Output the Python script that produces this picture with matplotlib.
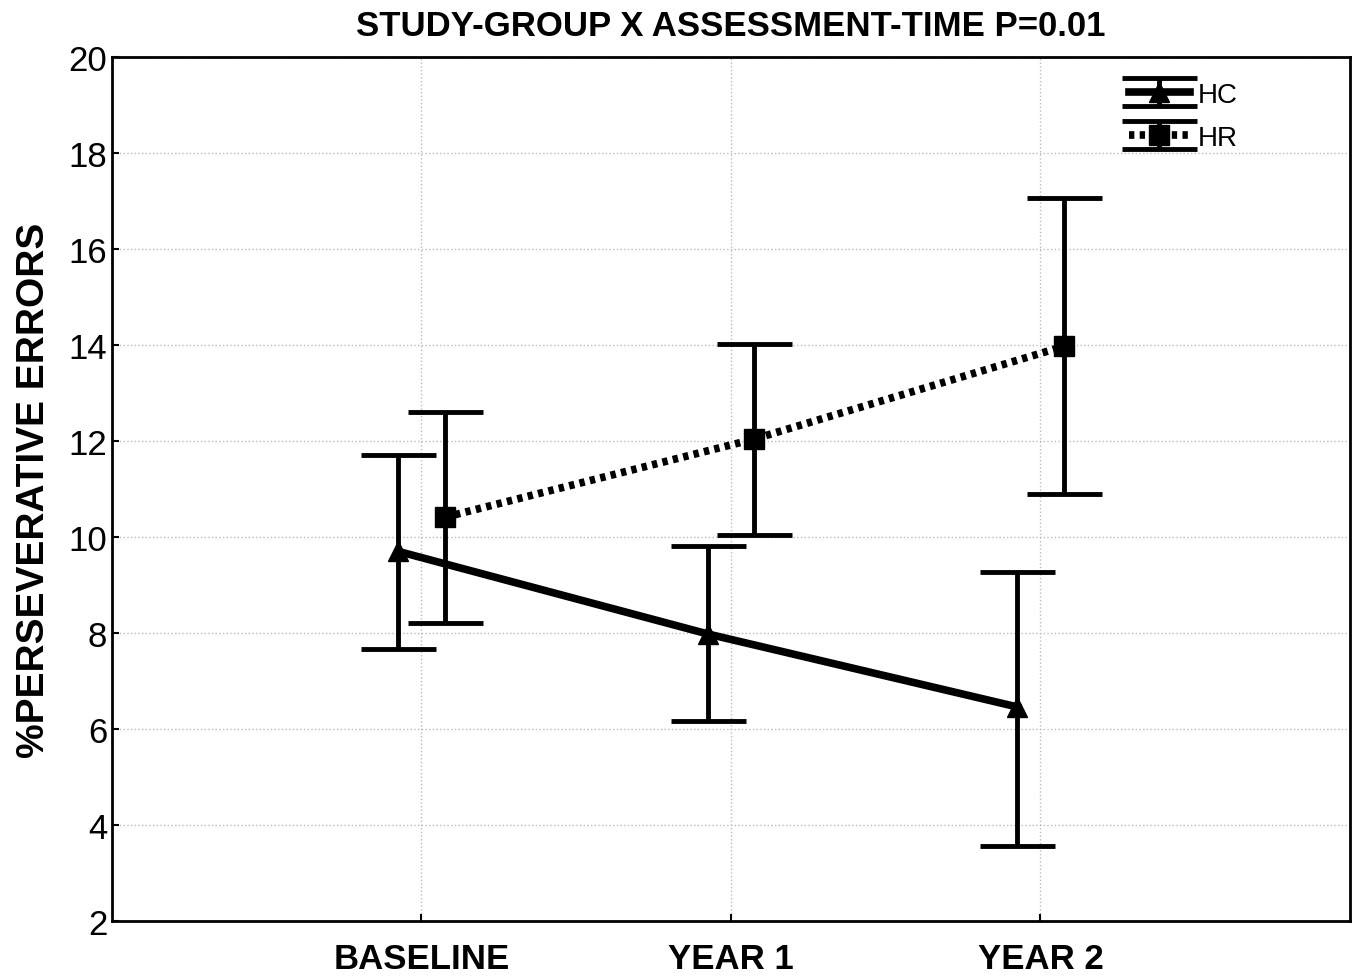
import matplotlib.pyplot as plt
import numpy as np

plt.rcParams['font.family'] = ['Liberation Sans', 'DejaVu Sans']

# === DADOS ===
tempos = ["BASELINE", "YEAR 1", "YEAR 2"]
hc_media = [9.7, 7.98, 6.46]
hc_sup = [11.71, 9.81, 9.27]
hc_inf = [7.67, 6.17, 3.57]
hr_media = [10.41, 12.04, 13.97]
hr_sup = [12.6, 14.02, 17.06]
hr_inf = [8.21, 10.04, 10.9]

x = np.arange(len(tempos))
desloc = 0.075

fig = plt.figure(figsize=(13.58, 9.79), dpi=100)
ax = fig.add_axes([0.0825, 0.0582, 0.9115, 0.8826])

hc_err = [np.array(hc_media) - np.array(hc_inf), np.array(hc_sup) - np.array(hc_media)]
hr_err = [np.array(hr_media) - np.array(hr_inf), np.array(hr_sup) - np.array(hr_media)]

ax.errorbar(x - desloc, hc_media, yerr=hc_err, color="black", lw=5.5, ls="-",
            marker="^", ms=14, elinewidth=3.5, capsize=27, capthick=3.5, label="HC", zorder=3)
ax.errorbar(x + desloc, hr_media, yerr=hr_err, color="black", lw=5.5, ls=(0, (0.7, 0.7)),
            marker="s", ms=15, elinewidth=3.5, capsize=27, capthick=3.5, label="HR", zorder=3)

ax.set_xlim(-1, 3)
ax.set_ylim(2, 20)
ax.set_yticks(range(2, 21, 2))
ax.set_xticks(x)
ax.set_xticklabels(tempos, fontsize=25, fontweight="bold")
ax.tick_params(axis="y", labelsize=25, direction="in", length=5, width=1.5)
ax.tick_params(axis="x", direction="in", length=5, width=1.5, pad=15)
ax.grid(True, color="#bbbbbb", ls=":", lw=1)
for s in ax.spines.values():
    s.set_linewidth(2)

ax.set_ylabel("%PERSEVERATIVE ERRORS", fontsize=28, fontweight="bold", labelpad=12)
ax.set_title("STUDY-GROUP X ASSESSMENT-TIME P=0.01", fontsize=25, fontweight="bold", pad=16)

leg = ax.legend(loc="upper right", frameon=False, fontsize=20, handlelength=2.2,
                labelspacing=0.6, handletextpad=0.3, bbox_to_anchor=(0.93, 1.0))

fig.savefig("out.png", dpi=100)
